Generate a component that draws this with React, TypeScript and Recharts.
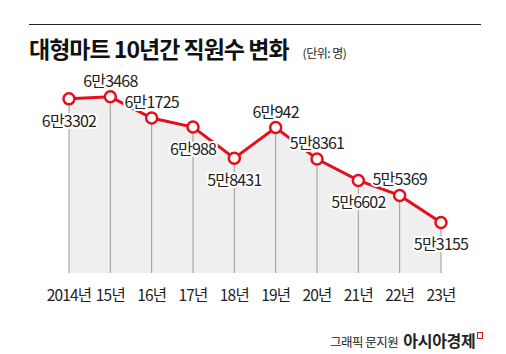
import React from "react";
import {
  ComposedChart,
  Area,
  Line,
  XAxis,
  YAxis,
  ReferenceLine,
  LabelList,
} from "recharts";

const YEARS = ["2014", "15", "16", "17", "18", "19", "20", "21", "22", "23"];
const YEAR_LABELS = ["2014년", "15년", "16년", "17년", "18년", "19년", "20년", "21년", "22년", "23년"];
const STAFF = [63302, 63468, 61725, 60988, 58431, 60942, 58361, 56602, 55369, 53155];
const LABEL_SIDE = ["below", "above", "above", "below", "below", "above", "above", "below", "above", "below"];

const Y_MIN = 49000;
const Y_MAX = 66000;
const RED = "#e2101f";
const FONT = "'Noto Sans CJK KR', 'Noto Sans', sans-serif";

const data = YEARS.map((y, i) => ({ year: y, label: YEAR_LABELS[i], staff: STAFF[i] }));

function toKorean(v: number) {
  return `${Math.floor(v / 10000)}만${v % 10000}`;
}

function ValueLabel(props: any) {
  const { x, y, value, index } = props;
  const below = LABEL_SIDE[index] === "below";
  return (
    <text
      x={x}
      y={below ? y + 21 : y - 17}
      textAnchor="middle"
      dominantBaseline="central"
      fontFamily={FONT}
      fontSize={16}
      letterSpacing={-0.8}
      fill="#222"
      stroke="#fff"
      strokeWidth={4}
      paintOrder="stroke"
      strokeLinejoin="round"
    >
      {toKorean(value)}
    </text>
  );
}

export default function App() {
  return (
    <div
      style={{
        position: "fixed",
        left: 0,
        top: 0,
        width: 506,
        height: 354,
        background: "#fff",
        fontFamily: FONT,
        overflow: "hidden",
      }}
    >
      <div style={{ position: "absolute", left: 29, top: 24, width: 452, height: 1, background: "#222" }} />
      <div
        style={{
          position: "absolute",
          left: 29,
          top: 33,
          fontSize: 23,
          fontWeight: 700,
          letterSpacing: -1,
          color: "#111",
          whiteSpace: "nowrap",
          lineHeight: "30px",
        }}
      >
        대형마트 10년간 직원수 변화
        <span style={{ fontSize: 12, fontWeight: 400, letterSpacing: -0.5, marginLeft: 14, color: "#222" }}>
          (단위: 명)
        </span>
      </div>

      <ComposedChart
        width={506}
        height={354}
        data={data}
        margin={{ top: 66, right: 65, left: 69, bottom: 51 }}
        style={{ position: "absolute", left: 0, top: 0 }}
      >
        <XAxis
          dataKey="year"
          scale="point"
          padding={{ left: 0, right: 0 }}
          axisLine={false}
          tickLine={false}
          tickMargin={11}
          tickFormatter={(v: string, i: number) => YEAR_LABELS[i]}
          tick={{ fill: "#222", fontSize: 15.5, letterSpacing: -0.8, fontFamily: FONT }}
          interval={0}
        />
        <YAxis hide domain={[Y_MIN, Y_MAX]} />
        <Area
          dataKey="staff"
          type="linear"
          fill="#efefef"
          fillOpacity={1}
          stroke="none"
          isAnimationActive={false}
        />
        {data.map((d) => (
          <ReferenceLine
            key={d.year}
            segment={[
              { x: d.year, y: Y_MIN },
              { x: d.year, y: d.staff },
            ]}
            stroke="#9a9a9a"
            strokeWidth={1}
          />
        ))}
        <Line
          dataKey="staff"
          type="linear"
          stroke={RED}
          strokeWidth={3}
          dot={{ r: 5.5, fill: "#fff", stroke: RED, strokeWidth: 2.5 }}
          isAnimationActive={false}
        >
          <LabelList dataKey="staff" content={<ValueLabel />} />
        </Line>
      </ComposedChart>

      <div
        style={{
          position: "absolute",
          left: 330,
          top: 328,
          whiteSpace: "nowrap",
          display: "flex",
          alignItems: "baseline",
          color: "#222",
        }}
      >
        <span style={{ fontSize: 12.5, letterSpacing: -0.5 }}>그래픽 문지원</span>
        <span style={{ fontSize: 16, fontWeight: 700, letterSpacing: -0.3, marginLeft: 5 }}>아시아경제</span>
        <span
          style={{
            display: "inline-block",
            width: 4,
            height: 5,
            border: `1.5px solid ${RED}`,
            marginLeft: 2,
            position: "relative",
            top: -8,
          }}
        />
      </div>
    </div>
  );
}
